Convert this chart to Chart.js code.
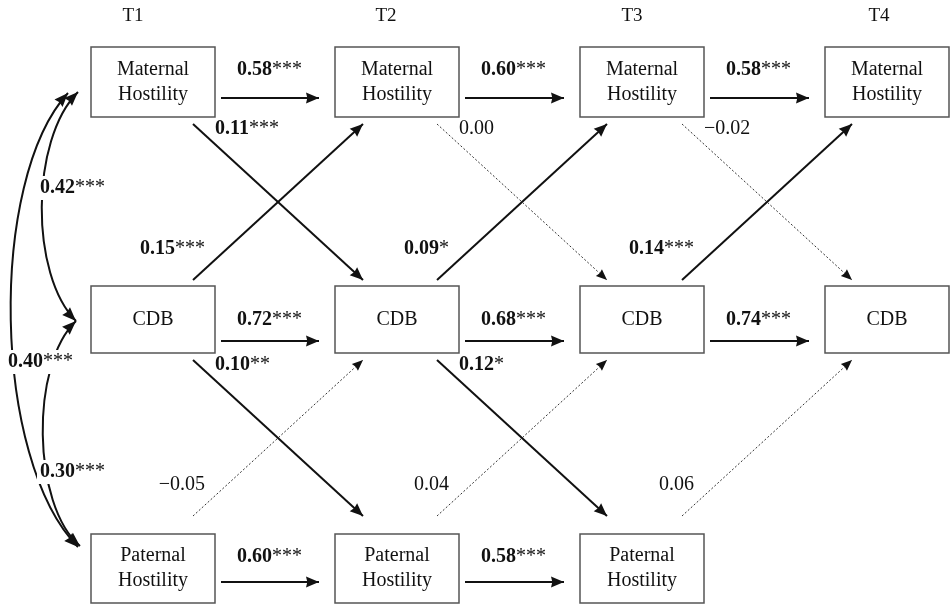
<!DOCTYPE html>
<html>
<head>
<meta charset="utf-8">
<script src="https://cdn.jsdelivr.net/npm/chart.js@4.4.0/dist/chart.umd.min.js"></script>
<style>
    html, body { margin: 0; padding: 0; background: #fff; }
    #wrap { width: 950px; height: 605px; position: relative; }
</style>
</head>
<body>
<div id="wrap"><canvas id="pathChart"></canvas></div>
<script>
// waves and constructs
var waves = ['T1', 'T2', 'T3', 'T4'];
var constructs = [['Maternal', 'Hostility'], ['CDB'], ['Paternal', 'Hostility']];
var wavesPerConstruct = [4, 4, 3];

// stability paths (T1->T2, T2->T3, T3->T4)
var mhStability = ['0.58***', '0.60***', '0.58***'];
var cdbStability = ['0.72***', '0.68***', '0.74***'];
var phStability = ['0.60***', '0.58***'];

// cross-lagged paths
var mhToCdb = ['0.11***', '0.00', '\u22120.02'];
var cdbToMh = ['0.15***', '0.09*', '0.14***'];
var cdbToPh = ['0.10**', '0.12*'];
var phToCdb = ['\u22120.05', '0.04', '0.06'];

// T1 correlations: MH-CDB, CDB-PH, MH-PH
var corrLabels = ['0.42***', '0.30***', '0.40***'];

// layout (pixels)
var colLeft = [91, 335, 580, 825];
var boxW = 124;
var rowTop = [47, 286, 534];
var rowBottom = [117, 353, 603];
var hArrowY = [98, 341, 582];
var hLabelY = [70, 320, 557];
var timeLabelX = [133, 386, 632, 879];
var corrCurves = [
    [[78, 92], [30, 140], [30, 275], [76, 321]],
    [[76, 321], [30, 365], [32, 505], [80, 546]],
    [[68, 93], [-12, 180], [-8, 460], [78, 547]]
];
var corrLabelPos = [[40, 188], [40, 472], [8, 362]];

var FONT = '"Liberation Serif", "Times New Roman", serif';

var paths = [];
[mhStability, cdbStability, phStability].forEach(function (vals, r) {
    vals.forEach(function (v, i) {
        var x0 = colLeft[i] + boxW + 6, x1 = colLeft[i + 1] - 16;
        paths.push({label: v, from: [x0, hArrowY[r]], to: [x1, hArrowY[r]], tx: x0 + 16, ty: hLabelY[r], align: 'left'});
    });
});

function addCross(vals, upper, down) {
    vals.forEach(function (v, i) {
        var x0 = colLeft[i] + 102, x1 = x0 + 170;
        var yTop = rowBottom[upper] + 7, yBot = yTop + 156;
        if (down) {
            paths.push({label: v, from: [x0, yTop], to: [x1, yBot], tx: colLeft[i] + 124, ty: yTop + 5, align: 'left'});
        } else {
            paths.push({label: v, from: [x0, yBot], to: [x1, yTop], tx: colLeft[i] + 114, ty: yBot - 31, align: 'right'});
        }
    });
}
addCross(mhToCdb, 0, true);
addCross(cdbToMh, 0, false);
addCross(cdbToPh, 1, true);
addCross(phToCdb, 1, false);

function isSig(label) {
    return label.indexOf('*') >= 0;
}

var datasets = paths.map(function (p) {
    var sig = isSig(p.label);
    return {
        data: [{x: p.from[0], y: p.from[1]}, {x: p.to[0], y: p.to[1]}],
        showLine: true,
        borderColor: sig ? '#111' : '#333',
        borderWidth: sig ? 2 : 1,
        borderDash: sig ? [] : [2, 2],
        pointRadius: 0,
        fill: false
    };
});

function drawHead(ctx, x, y, ang, len, hw) {
    ctx.save();
    ctx.translate(x, y);
    ctx.rotate(ang);
    ctx.beginPath();
    ctx.moveTo(0, 0);
    ctx.lineTo(-len, -hw);
    ctx.lineTo(-len * 0.9, 0);
    ctx.lineTo(-len, hw);
    ctx.closePath();
    ctx.fillStyle = '#111';
    ctx.fill();
    ctx.restore();
}

var diagramPlugin = {
    id: 'diagram',
    afterDatasetsDraw: function (chart) {
        var ctx = chart.ctx;
        var xs = chart.scales.x, ys = chart.scales.y;
        function px(v) { return xs.getPixelForValue(v); }
        function py(v) { return ys.getPixelForValue(v); }

        function drawCoef(text, x, y, align, bg) {
            var m = text.match(/^([^*]*)(\**)$/);
            var num = m[1], stars = m[2];
            var sig = stars.length > 0;
            ctx.font = (sig ? 'bold ' : '') + '20px ' + FONT;
            var w1 = ctx.measureText(num).width;
            ctx.font = '20px ' + FONT;
            var w2 = ctx.measureText(stars).width;
            var left = align === 'right' ? x - w1 - w2 : x;
            if (bg) {
                ctx.fillStyle = '#fff';
                ctx.fillRect(left - 3, y - 12, w1 + w2 + 6, 24);
            }
            ctx.fillStyle = '#111';
            ctx.textAlign = 'left';
            ctx.textBaseline = 'middle';
            ctx.font = (sig ? 'bold ' : '') + '20px ' + FONT;
            ctx.fillText(num, left, y);
            ctx.font = '20px ' + FONT;
            ctx.fillText(stars, left + w1, y);
        }

        ctx.save();
        // arrow heads on straight paths
        paths.forEach(function (p, i) {
            var pts = chart.getDatasetMeta(i).data;
            var a = pts[0], b = pts[1];
            var ang = Math.atan2(b.y - a.y, b.x - a.x);
            if (isSig(p.label)) drawHead(ctx, b.x, b.y, ang, 13, 5.5);
            else drawHead(ctx, b.x, b.y, ang, 11, 4.5);
        });

        // boxes
        constructs.forEach(function (lines, r) {
            for (var c = 0; c < wavesPerConstruct[r]; c++) {
                var l = px(colLeft[c]), t = py(rowTop[r]);
                var w = px(colLeft[c] + boxW) - l, h = py(rowBottom[r]) - t;
                ctx.fillStyle = '#fff';
                ctx.fillRect(l, t, w, h);
                ctx.strokeStyle = '#555';
                ctx.lineWidth = 1.5;
                ctx.strokeRect(l, t, w, h);
                ctx.fillStyle = '#111';
                ctx.font = '20px ' + FONT;
                ctx.textAlign = 'center';
                ctx.textBaseline = 'middle';
                var cy = t + h / 2;
                lines.forEach(function (s, k) {
                    ctx.fillText(s, l + w / 2, cy + (k - (lines.length - 1) / 2) * 25);
                });
            }
        });

        // wave labels
        ctx.font = '19px ' + FONT;
        ctx.textAlign = 'center';
        ctx.textBaseline = 'middle';
        ctx.fillStyle = '#111';
        waves.forEach(function (s, i) {
            ctx.fillText(s, px(timeLabelX[i]), py(16));
        });

        // coefficient labels
        paths.forEach(function (p) {
            drawCoef(p.label, px(p.tx), py(p.ty), p.align, false);
        });

        // correlation curves with heads at both ends
        corrCurves.forEach(function (c) {
            var q = c.map(function (pt) { return [px(pt[0]), py(pt[1])]; });
            ctx.beginPath();
            ctx.moveTo(q[0][0], q[0][1]);
            ctx.bezierCurveTo(q[1][0], q[1][1], q[2][0], q[2][1], q[3][0], q[3][1]);
            ctx.strokeStyle = '#111';
            ctx.lineWidth = 2;
            ctx.setLineDash([]);
            ctx.stroke();
            drawHead(ctx, q[3][0], q[3][1], Math.atan2(q[3][1] - q[2][1], q[3][0] - q[2][0]), 14, 5.5);
            drawHead(ctx, q[0][0], q[0][1], Math.atan2(q[0][1] - q[1][1], q[0][0] - q[1][0]), 14, 5.5);
        });
        corrLabels.forEach(function (s, i) {
            drawCoef(s, px(corrLabelPos[i][0]), py(corrLabelPos[i][1]), 'left', true);
        });
        ctx.restore();
    }
};

new Chart(document.getElementById('pathChart'), {
    type: 'scatter',
    data: {datasets: datasets},
    options: {
        responsive: true,
        maintainAspectRatio: false,
        animation: false,
        layout: {padding: 0},
        plugins: {legend: {display: false}, tooltip: {enabled: false}},
        scales: {
            x: {type: 'linear', min: 0, max: 950, display: false},
            y: {type: 'linear', min: 0, max: 605, reverse: true, display: false}
        }
    },
    plugins: [diagramPlugin]
});
</script>
</body>
</html>
